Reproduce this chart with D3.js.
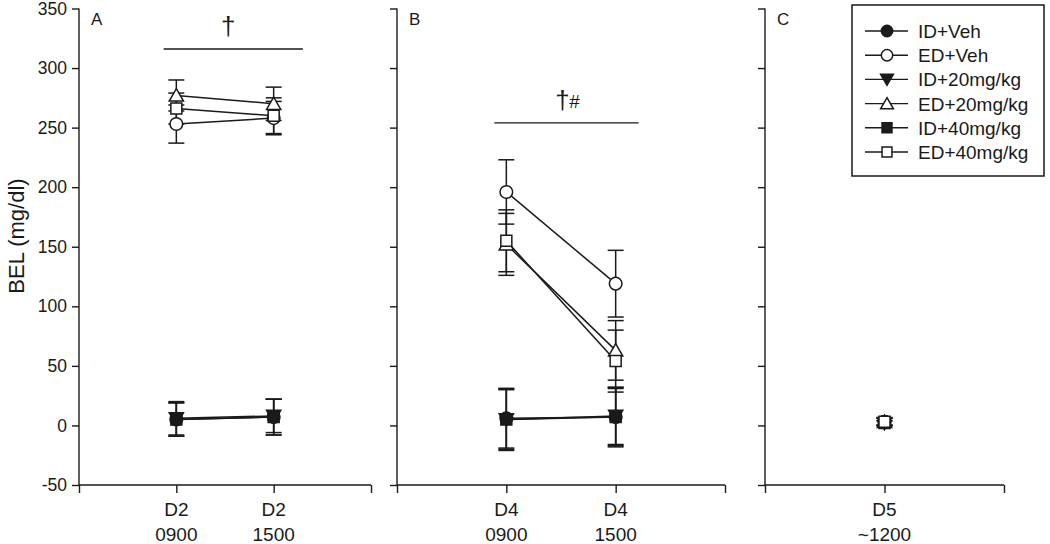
<!DOCTYPE html>
<html><head><meta charset="utf-8">
<script src="https://cdn.jsdelivr.net/npm/d3@7"></script>
<style>body{margin:0;background:#fff}svg{display:block}text{font-family:"Liberation Sans",Arial,sans-serif;fill:#1a1a1a}</style>
</head><body><svg id="c" width="1050" height="544"></svg>
<script>
// ---- data ----
const panels = ["A","B","C"];
const panelTicks = {A:[["D2","0900"],["D2","1500"]], B:[["D4","0900"],["D4","1500"]], C:[["D5","~1200"]]};
const yTicks = [-50,0,50,100,150,200,250,300,350];
const seriesNames = ["ID+Veh","ED+Veh","ID+20mg/kg","ED+20mg/kg","ID+40mg/kg","ED+40mg/kg"];
// means per panel
const idVehA=[5,7], idVehB=[6,7], idVehC=[3];
const edVehA=[253,258], edVehB=[196,119], edVehC=[3];
const id20A=[6,8], id20B=[5,8], id20C=[2];
const ed20A=[277,270], ed20B=[152,63], ed20C=[3];
const id40A=[5,7], id40B=[5,7], id40C=[2];
const ed40A=[266,260], ed40B=[155,54], ed40C=[3];
// SEM per panel
const idVehAe=[14,15], idVehBe=[25,24], idVehCe=[3];
const edVehAe=[16,14], edVehBe=[27,28], edVehCe=[3];
const id20Ae=[14,14], id20Be=[26,24], id20Ce=[2];
const ed20Ae=[13,14], ed20Be=[26,25], ed20Ce=[3];
const id40Ae=[14,15], id40Be=[25,25], id40Ce=[2];
const ed40Ae=[13,15], ed40Be=[26,26], ed40Ce=[3];
// significance annotations
const sigA={x0:0.87,x1:2.3,y:316,label:"†",sub:""};
const sigB={x0:0.89,x1:2.21,y:254,label:"†",sub:"#"};

const series = [
 {name:seriesNames[0], shape:"circle", fill:true, m:{A:idVehA,B:idVehB,C:idVehC}, e:{A:idVehAe,B:idVehBe,C:idVehCe}},
 {name:seriesNames[1], shape:"circle", fill:false,m:{A:edVehA,B:edVehB,C:edVehC}, e:{A:edVehAe,B:edVehBe,C:edVehCe}},
 {name:seriesNames[2], shape:"tridown",fill:true, m:{A:id20A,B:id20B,C:id20C}, e:{A:id20Ae,B:id20Be,C:id20Ce}},
 {name:seriesNames[3], shape:"triup", fill:false,m:{A:ed20A,B:ed20B,C:ed20C}, e:{A:ed20Ae,B:ed20Be,C:ed20Ce}},
 {name:seriesNames[4], shape:"square", fill:true, m:{A:id40A,B:id40B,C:id40C}, e:{A:id40Ae,B:id40Be,C:id40Ce}},
 {name:seriesNames[5], shape:"square", fill:false,m:{A:ed40A,B:ed40B,C:ed40C}, e:{A:ed40Ae,B:ed40Be,C:ed40Ce}}
];

const svg = d3.select("#c");
const ink = "#1a1a1a";
const y = d3.scaleLinear().domain([-50,350]).range([485,8.5]);
const layout = {
  A:{x0:79,x1:371,dom:[0,3]},
  B:{x0:397,x1:725,dom:[0,3]},
  C:{x0:765,x1:1004,dom:[0,2]}
};

function sym(shape, size){
  if(shape==="circle") return d3.symbol(d3.symbolCircle, size)();
  if(shape==="square") return d3.symbol(d3.symbolSquare, size)();
  return d3.symbol(d3.symbolTriangle, size)();
}
function drawMarker(g, s, cx, cy, scale){
  const k = scale||1;
  const base = s.shape==="circle"?125:s.shape==="square"?121:88;
  const p = g.append("path")
    .attr("d", sym(s.shape, base*k*k))
    .attr("fill", s.fill?ink:"#fff").attr("stroke", ink).attr("stroke-width",1.5);
  let tr = `translate(${cx},${cy})`;
  if(s.shape==="tridown") tr += " rotate(180)";
  if(s.shape==="tridown"||s.shape==="triup") tr += " translate(0,1.5)";
  p.attr("transform", tr);
}

panels.forEach(pn=>{
  const L = layout[pn];
  const x = d3.scaleLinear().domain(L.dom).range([L.x0,L.x1]);
  const g = svg.append("g");
  // y axis
  const ya = d3.axisLeft(y).tickValues(yTicks).tickSize(7).tickPadding(5).tickFormat(d=>String(d));
  if(pn!=="A") ya.tickFormat("");
  const yg = g.append("g").attr("transform",`translate(${L.x0},0)`).call(ya);
  yg.select(".domain").attr("d",`M0,${y(350)}V${y(-50)}`);
  // x axis
  const n = panelTicks[pn].length;
  const xt = [L.dom[0]].concat(d3.range(1,n+1)).concat([L.dom[1]]);
  const xa = d3.axisBottom(x).tickValues(xt).tickSize(8).tickFormat("");
  const xg = g.append("g").attr("transform",`translate(0,${y(-50)})`).call(xa);
  xg.select(".domain").attr("d",`M${L.x0},0H${L.x1}`);
  [yg,xg].forEach(a=>{a.selectAll("path,line").attr("stroke",ink).attr("stroke-width",1.4);
    a.selectAll("text").attr("font-size",17.5).style("font-family","Liberation Sans, Arial, sans-serif").attr("fill",ink);});
  // x labels
  panelTicks[pn].forEach((t,i)=>{
    const tx = x(i+1);
    g.append("text").attr("x",tx).attr("y",516).attr("text-anchor","middle").attr("font-size",19).text(t[0]);
    g.append("text").attr("x",tx).attr("y",541).attr("text-anchor","middle").attr("font-size",19).text(t[1]);
  });
  // panel label
  g.append("text").attr("x",L.x0+12).attr("y",25).attr("font-size",17).text(pn);
  // error bars
  series.forEach(s=>{
    s.m[pn].forEach((v,i)=>{
      const cx=x(i+1), e=s.e[pn][i];
      g.append("line").attr("x1",cx).attr("x2",cx).attr("y1",y(v-e)).attr("y2",y(v+e)).attr("stroke",ink).attr("stroke-width",1.5);
      [v-e,v+e].forEach(w=>g.append("line").attr("x1",cx-8).attr("x2",cx+8).attr("y1",y(w)).attr("y2",y(w)).attr("stroke",ink).attr("stroke-width",1.5));
    });
  });
  // lines
  series.forEach(s=>{
    if(s.m[pn].length>1){
      g.append("path").attr("d", d3.line().x((d,i)=>x(i+1)).y(d=>y(d))(s.m[pn]))
        .attr("fill","none").attr("stroke",ink).attr("stroke-width",1.5);
    }
  });
  // markers
  series.forEach(s=>{
    s.m[pn].forEach((v,i)=>drawMarker(g,s,x(i+1),y(v)));
  });
  // significance
  const sig = pn==="A"?sigA:pn==="B"?sigB:null;
  if(sig){
    g.append("line").attr("x1",x(sig.x0)).attr("x2",x(sig.x1)).attr("y1",y(sig.y)).attr("y2",y(sig.y)).attr("stroke",ink).attr("stroke-width",1.4);
    const cx = pn==="A"? x((sig.x0+sig.x1)/2)-5 : x((sig.x0+sig.x1)/2)-4;
    g.append("text").attr("x",cx).attr("y",y(sig.y)-14).attr("text-anchor","middle").attr("font-size",26).text(sig.label);
    if(sig.sub) g.append("text").attr("x",cx+12).attr("y",y(sig.y)-15).attr("text-anchor","middle").attr("font-size",19).text(sig.sub);
  }
});

// y title
svg.append("text").attr("transform","translate(24,236) rotate(-90)").attr("text-anchor","middle").attr("font-size",22).text("BEL (mg/dl)");

// legend
const lg = svg.append("g");
lg.append("rect").attr("x",852).attr("y",5).attr("width",192).attr("height",171).attr("fill","#fff").attr("stroke",ink).attr("stroke-width",1.5);
series.forEach((s,i)=>{
  const ly = 31 + i*24.2;
  lg.append("line").attr("x1",865).attr("x2",908).attr("y1",ly).attr("y2",ly).attr("stroke",ink).attr("stroke-width",1.4);
  drawMarker(lg,s,887,ly,0.9);
  lg.append("text").attr("x",918).attr("y",ly+7).attr("font-size",19).text(s.name);
});
</script></body></html>
